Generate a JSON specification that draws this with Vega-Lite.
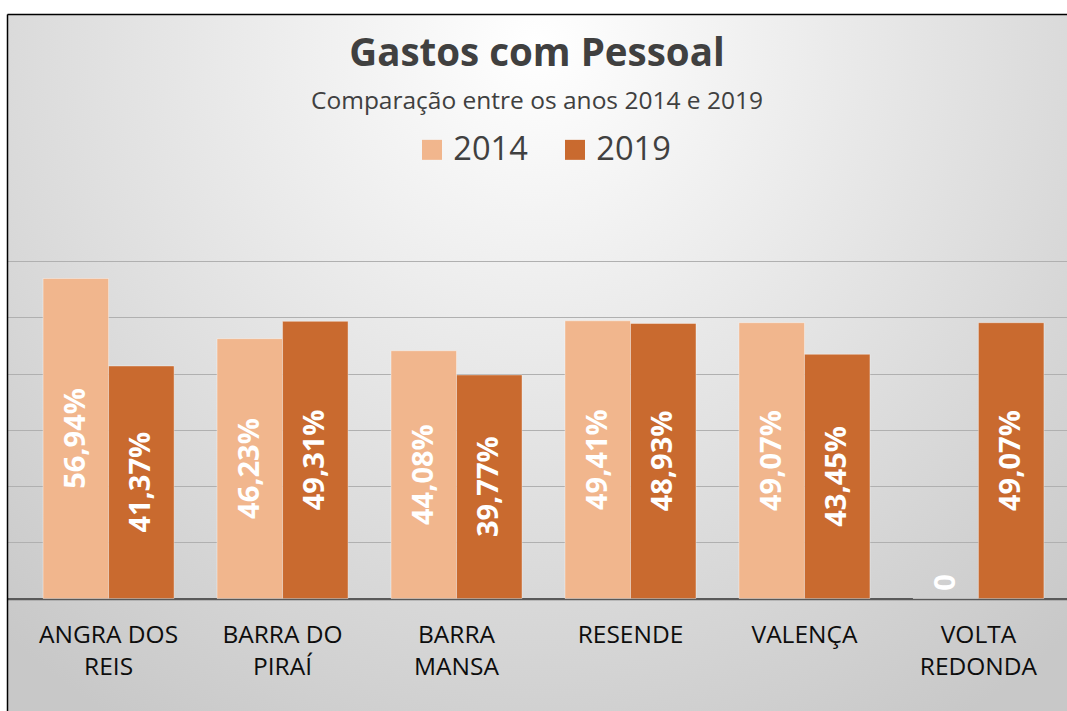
{
  "$schema": "https://vega.github.io/schema/vega-lite/v6.json",
  "autosize": {"type": "none"},
  "padding": {"left": 7, "top": 14, "right": 0, "bottom": 0},
  "width": 1060,
  "height": 697,
  "background": "#ffffff",
  "title": {
    "text": "Gastos com Pessoal",
    "subtitle": "Comparação entre os anos 2014 e 2019",
    "anchor": "middle",
    "frame": "group",
    "offset": -100,
    "font": "Open Sans",
    "fontSize": 38.5,
    "fontWeight": "bold",
    "color": "#404040",
    "subtitleFont": "Open Sans",
    "subtitleFontSize": 24.5,
    "subtitleColor": "#404040",
    "subtitlePadding": 15
  },
  "data": {
    "values": [
      {"city": "ANGRA DOS REIS", "year": "2014", "value": 0.5694},
      {"city": "ANGRA DOS REIS", "year": "2019", "value": 0.4137},
      {"city": "BARRA DO PIRAÍ", "year": "2014", "value": 0.4623},
      {"city": "BARRA DO PIRAÍ", "year": "2019", "value": 0.4931},
      {"city": "BARRA MANSA", "year": "2014", "value": 0.4408},
      {"city": "BARRA MANSA", "year": "2019", "value": 0.3977},
      {"city": "RESENDE", "year": "2014", "value": 0.4941},
      {"city": "RESENDE", "year": "2019", "value": 0.4893},
      {"city": "VALENÇA", "year": "2014", "value": 0.4907},
      {"city": "VALENÇA", "year": "2019", "value": 0.4345},
      {"city": "VOLTA REDONDA", "year": "2014", "value": 0},
      {"city": "VOLTA REDONDA", "year": "2019", "value": 0.4907}
    ]
  },
  "layer": [
    {
      "mark": {"type": "bar", "stroke": "#ffffff", "strokeOpacity": 0.5, "strokeWidth": 0.75},
      "encoding": {
        "x": {
          "field": "city",
          "type": "nominal",
          "sort": null,
          "scale": {"paddingInner": 0.247, "paddingOuter": 0.17, "align": 0.61},
          "axis": {
            "orient": "bottom",
            "offset": -112.5,
            "title": null,
            "domain": true,
            "domainColor": "#595959",
            "domainWidth": 2.25,
            "ticks": false,
            "grid": false,
            "labelAngle": 0,
            "labelFont": "Open Sans",
            "labelFontSize": 24.5,
            "labelColor": "#0d0d0d",
            "labelPadding": 25,
            "labelLineHeight": 32,
            "labelExpr": "lastindexof(datum.label, ' ') > 0 ? [substring(datum.label, 0, lastindexof(datum.label, ' ')), substring(datum.label, lastindexof(datum.label, ' ') + 1)] : datum.label"
          }
        },
        "xOffset": {
          "field": "year",
          "type": "nominal",
          "scale": {"paddingInner": 0, "paddingOuter": 0}
        },
        "y": {
          "field": "value",
          "type": "quantitative",
          "scale": {"domain": [-0.2002, 1.04], "nice": false, "zero": false},
          "axis": {
            "orient": "left",
            "title": null,
            "domain": true,
            "domainColor": "#000000",
            "domainWidth": 1.5,
            "ticks": false,
            "labels": false,
            "grid": true,
            "gridColor": "#b0b0b0",
            "gridWidth": 1,
            "values": [0.1, 0.2, 0.3, 0.4, 0.5, 0.6]
          }
        },
        "color": {
          "field": "year",
          "type": "nominal",
          "scale": {"domain": ["2014", "2019"], "range": ["#F1B68D", "#C96A2F"]},
          "legend": {
            "orient": "none",
            "legendX": 408.7,
            "legendY": 119.5,
            "direction": "horizontal",
            "title": null,
            "symbolType": "square",
            "symbolSize": 400,
            "symbolStrokeWidth": 0,
            "symbolOpacity": 1,
            "labelFont": "Open Sans",
            "labelFontSize": 32.6,
            "labelColor": "#404040",
            "labelOffset": 5,
            "columnPadding": 30,
            "padding": 0
          }
        }
      }
    },
    {
      "transform": [{"filter": "datum.value > 0"}],
      "mark": {
        "type": "text",
        "angle": 270,
        "align": "center",
        "baseline": "middle",
        "font": "Open Sans",
        "fontWeight": "bold",
        "fontSize": 29,
        "color": "#ffffff"
      },
      "encoding": {
        "x": {
          "field": "city",
          "type": "nominal",
          "sort": null,
          "scale": {"paddingInner": 0.247, "paddingOuter": 0.17, "align": 0.61},
          "axis": null
        },
        "xOffset": {
          "field": "year",
          "type": "nominal",
          "scale": {"paddingInner": 0, "paddingOuter": 0}
        },
        "y": {
          "field": "value",
          "type": "quantitative",
          "scale": {"domain": [-0.4004, 2.08], "nice": false, "zero": false},
          "axis": null
        },
        "text": {"field": "value", "type": "quantitative", "format": ".2%"}
      }
    },
    {
      "transform": [{"filter": "datum.value == 0"}],
      "mark": {
        "type": "text",
        "angle": 270,
        "align": "center",
        "baseline": "middle",
        "dx": 16,
        "font": "Open Sans",
        "fontWeight": "bold",
        "fontSize": 29,
        "color": "#ffffff"
      },
      "encoding": {
        "x": {
          "field": "city",
          "type": "nominal",
          "sort": null,
          "scale": {"paddingInner": 0.247, "paddingOuter": 0.17, "align": 0.61},
          "axis": {
            "orient": "top",
            "title": null,
            "domain": true,
            "domainColor": "#000000",
            "domainWidth": 1.5,
            "ticks": false,
            "labels": false,
            "grid": false
          }
        },
        "xOffset": {
          "field": "year",
          "type": "nominal",
          "scale": {"paddingInner": 0, "paddingOuter": 0}
        },
        "y": {
          "field": "value",
          "type": "quantitative",
          "scale": {"domain": [-0.4004, 2.08], "nice": false, "zero": false},
          "axis": null
        },
        "text": {"field": "value", "type": "quantitative", "format": ".0f"}
      }
    }
  ],
  "resolve": {"scale": {"y": "independent"}, "axis": {"x": "independent"}},
  "config": {
    "locale": {
      "number": {"decimal": ",", "thousands": ".", "grouping": [3], "currency": ["R$", ""]}
    },
    "view": {
      "stroke": null,
      "fill": {
        "gradient": "radial",
        "x1": 0.5, "y1": 0.2, "r1": 0,
        "x2": 0.5, "y2": 0.2, "r2": 0.75,
        "stops": [
          {"offset": 0, "color": "#ffffff"},
          {"offset": 1, "color": "#c8c8c8"}
        ]
      }
    }
  }
}
